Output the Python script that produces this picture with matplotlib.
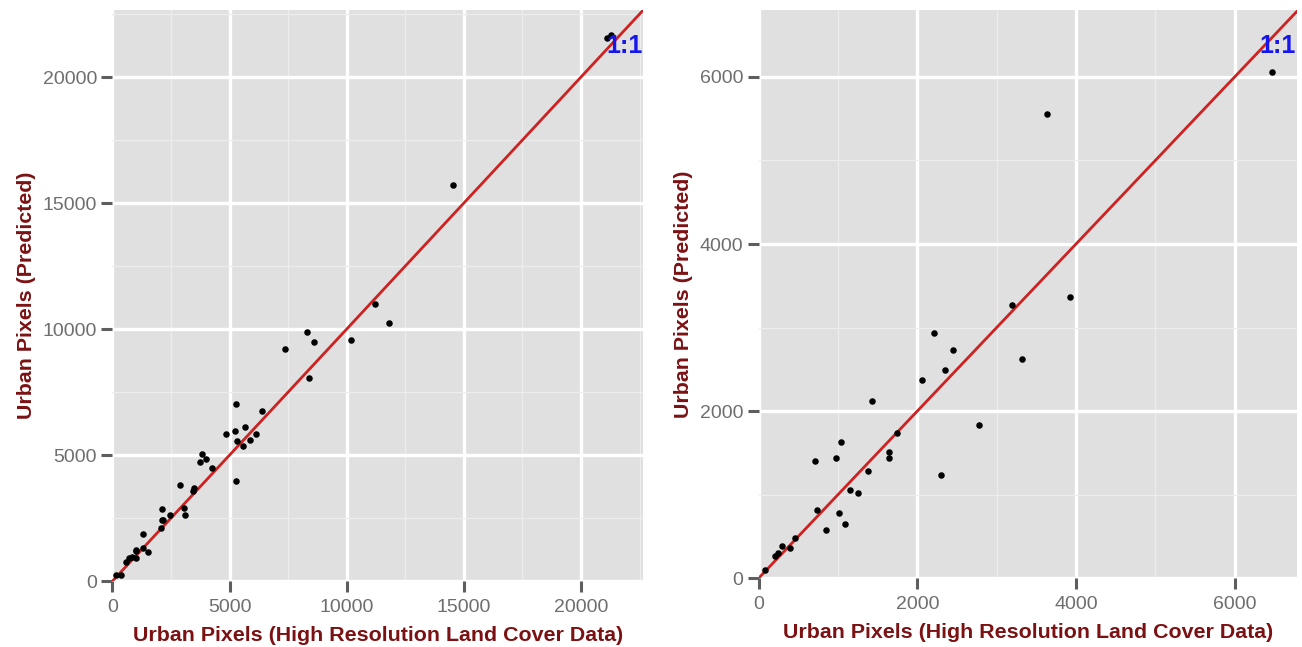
import matplotlib
matplotlib.use("Agg")
import matplotlib.pyplot as plt
from matplotlib.ticker import MultipleLocator

plt.rcParams['font.family'] = ['Liberation Sans', 'DejaVu Sans']

# Panel A: high-resolution land cover vs. predicted urban pixels (large extent)
obs_a = [5259, 6397, 4846, 5217, 5672, 5330, 5586, 5885, 6141, 5287,
         3807, 3736, 3992, 4235, 2896, 3494, 3437, 2113, 3053, 3110,
         2113, 2170, 2455, 2085, 1288, 1017, 1003, 1530, 1317, 832,
         989, 719, 562, 349, 135, 11195, 11820, 10171, 8292, 8604,
         7366, 8377, 14552, 21101, 21272]
pred_a = [7036, 6758, 5821, 5952, 6111, 5556, 5370, 5608, 5846, 3955,
          5040, 4709, 4828, 4496, 3810, 3704, 3571, 2870, 2910, 2606,
          2434, 2420, 2606, 2103, 1865, 1243, 1177, 1151, 1323, 966,
          913, 899, 754, 225, 225, 10992, 10250, 9563, 9881, 9472,
          9194, 8044, 15726, 21536, 21655]

# Panel B: same comparison for the smaller extent
obs_b = [1434, 2775, 1742, 1044, 712, 977, 1641, 1641, 1380, 2296,
         1157, 1250, 741, 1011, 1094, 851, 456, 300, 397, 246,
         212, 86, 3922, 3191, 2208, 2448, 3325, 2351, 2065, 3636, 6476]
pred_b = [2125, 1840, 1736, 1628, 1400, 1440, 1508, 1440, 1280, 1240,
          1056, 1016, 820, 780, 648, 576, 480, 391, 360, 307,
          264, 100, 3361, 3269, 2933, 2737, 2624, 2492, 2372, 5550, 6054]

ticks_a = [0, 5000, 10000, 15000, 20000]
ticks_b = [0, 2000, 4000, 6000]

xlabel = "Urban Pixels (High Resolution Land Cover Data)"
ylabel = "Urban Pixels (Predicted)"
label_color = "#7B1113"
tick_color = "#6E6E6E"

fig = plt.figure(figsize=(13.02, 6.47), dpi=100)


def style_panel(ax, ticks, minor, lim_x, lim_y):
    ax.set_facecolor("#E0E0E0")
    for s in ax.spines.values():
        s.set_visible(False)
    ax.set_xlim(0, lim_x)
    ax.set_ylim(0, lim_y)
    ax.set_xticks(ticks)
    ax.set_yticks(ticks)
    ax.xaxis.set_minor_locator(MultipleLocator(minor))
    ax.yaxis.set_minor_locator(MultipleLocator(minor))
    ax.grid(which="major", color="white", linewidth=2.4)
    ax.grid(which="minor", color="#EDEDED", linewidth=0.9)
    ax.set_axisbelow(True)
    ax.tick_params(which="major", length=8, width=2.2, color="#5E5E5E",
                   labelcolor=tick_color, labelsize=14)
    ax.tick_params(axis="x", pad=5)
    ax.tick_params(axis="y", pad=3)
    ax.tick_params(which="minor", length=0)
    ax.set_xlabel(xlabel, color=label_color, fontsize=15.4,
                  fontweight="bold", labelpad=7)
    ax.set_ylabel(ylabel, color=label_color, fontsize=15.4,
                  fontweight="bold", labelpad=5)


def draw_panel(ax, obs, pred, lim, tx, ty):
    ax.plot([0, lim], [0, lim], color="#CC2222", linewidth=2.0, zorder=2)
    ax.scatter(obs, pred, s=22, color="black", zorder=3, linewidths=0)
    ax.text(tx, ty, "1:1", color="#1515EE", fontsize=18, fontweight="bold",
            ha="center", va="center", zorder=4)


ax1 = fig.add_axes([0.0864, 0.1020, 0.4075, 0.8825])
style_panel(ax1, ticks_a, 2500, 22650, 22660)
draw_panel(ax1, obs_a, pred_a, 23000, 21840, 21230)

ax2 = fig.add_axes([0.5826, 0.1062, 0.4136, 0.8783])
style_panel(ax2, ticks_b, 1000, 6786, 6800)
draw_panel(ax2, obs_b, pred_b, 7000, 6535, 6372)

fig.savefig("out.png", dpi=100)
